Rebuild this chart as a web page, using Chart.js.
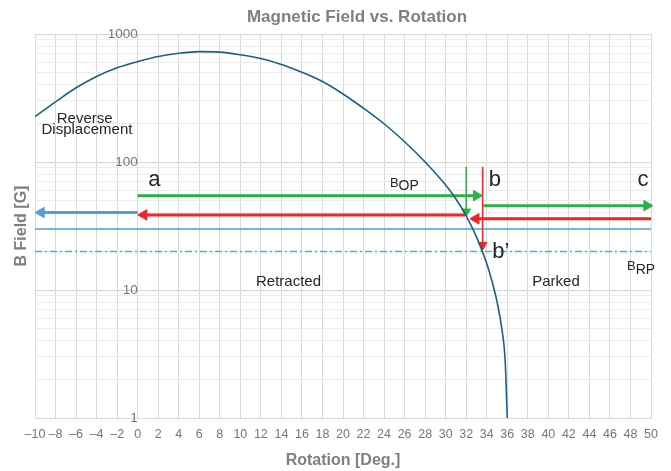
<!DOCTYPE html>
<html>
<head>
<meta charset="utf-8">
<title>Magnetic Field vs. Rotation</title>
<script src="https://cdn.jsdelivr.net/npm/chart.js@4.4.0/dist/chart.umd.min.js"></script>
<style>
    body { margin: 0; background: #fff; }
    #fieldChart { display: block; }
</style>
</head>
<body>
<canvas id="fieldChart" width="671" height="471"></canvas>
<script>
// B field curve
const rotation = [-10, -8, -6, -4, -2, 0, 2, 4, 6, 8, 10, 12, 14, 16, 18, 20, 22, 24, 26, 28, 30, 31, 32, 33, 34, 34.5, 35, 35.5, 35.8, 36];
const bField = [226, 295, 380, 466, 545, 608, 667, 707, 728, 722, 688, 643, 578, 502, 425, 340, 263, 199, 144, 100, 66, 51.4, 38, 26, 16.1, 11.8, 8.1, 4.8, 2.75, 1];

// threshold levels
const bOpLevel = 30;
const bRpLevel = 20;

// arrows, [x, y] pairs, head at the last point
const arrowA = [[0, 54.6], [33.0, 54.6]];
const arrowBack = [[31.9, 38.6], [0.6, 38.6]];
const arrowReverse = [[0, 40.3], [-9.4, 40.3]];
const arrowC = [[33.66, 45.6], [49.6, 45.6]];
const arrowParkBack = [[50, 36], [32.95, 36]];
const dropGreen = [[32.0, 92], [32.0, 41]];
const dropRed = [[33.6, 92], [33.6, 22.5]];

// axis ticks
const xRange = [-10, 50];
const yTickLabels = [1, 10, 100, 1000];
const yGridValues = [];
[1, 10, 100].forEach(d => {
    for (let m = 1; m <= 9; m++) yGridValues.push(m * d);
});
yGridValues.push(1000);

const FONT = "'Liberation Sans', Arial, sans-serif";
const GREEN = '#2bb04a';
const RED = '#ee2427';
const TITLE_GREY = '#7f7f7f';

// text notes, y is the text baseline
const notes = [
    { text: 'Reverse', x: -5.16, y: 200, size: 15 },
    { text: 'Displacement', x: -4.94, y: 164.5, size: 15 },
    { text: 'a', x: 1.62, y: 65.3, size: 22 },
    { text: 'b', x: 34.8, y: 64.5, size: 22 },
    { text: 'c', x: 49.22, y: 64.5, size: 22 },
    { text: 'b\u2019', x: 35.37, y: 17.8, size: 22 },
    { text: 'Retracted', x: 14.69, y: 10.7, size: 15 },
    { text: 'Parked', x: 40.75, y: 10.7, size: 15 },
    { text: 'B', sub: 'OP', x: 24.57, y: 64.1, size: 13, align: 'left' },
    { text: 'B', sub: 'RP', x: 47.66, y: 14.3, size: 13, align: 'left' }
];

function toPoints(pairs) {
    return pairs.map(p => ({ x: p[0], y: p[1] }));
}

function arrowSet(pairs, color, width, rot, head) {
    return {
        data: toPoints(pairs),
        borderColor: color,
        backgroundColor: color,
        borderWidth: width,
        pointStyle: 'triangle',
        pointRadius: [0, head],
        pointHoverRadius: 0,
        pointRotation: [0, rot],
        pointBackgroundColor: color,
        pointBorderColor: color,
        pointBorderWidth: 1,
        tension: 0,
        clip: 10,
        order: 1
    };
}

function levelSet(value, color, dash) {
    return {
        data: toPoints([[xRange[0], value], [xRange[1], value]]),
        borderColor: color,
        borderWidth: 1.5,
        borderDash: dash,
        pointRadius: 0,
        pointHoverRadius: 0,
        order: 2
    };
}

const notesPlugin = {
    id: 'notes',
    afterDatasetsDraw(chart) {
        const c = chart.ctx;
        const xs = chart.scales.x;
        const ys = chart.scales.y;
        const area = chart.chartArea;
        c.save();
        // chart title, sits a bit right of the plot centre like the original
        c.fillStyle = TITLE_GREY;
        c.font = 'bold 17px ' + FONT;
        c.textAlign = 'center';
        c.textBaseline = 'alphabetic';
        c.fillText('Magnetic Field vs. Rotation', (area.left + area.right) / 2 + 14, 22);

        c.fillStyle = '#262626';
        notes.forEach(n => {
            const px = xs.getPixelForValue(n.x);
            const py = ys.getPixelForValue(n.y);
            c.font = n.size + 'px ' + FONT;
            c.textAlign = n.align || 'center';
            c.fillText(n.text, px, py);
            if (n.sub) {
                const w = c.measureText(n.text).width;
                c.font = (n.size + 1) + 'px ' + FONT;
                c.textAlign = 'left';
                c.fillText(n.sub, px + w, py + 3.5);
            }
        });
        c.restore();
    }
};

const ctx = document.getElementById('fieldChart').getContext('2d');
new Chart(ctx, {
    type: 'line',
    data: {
        datasets: [
            {
                data: rotation.map((r, i) => ({ x: r, y: bField[i] })),
                borderColor: '#1d5f86',
                borderWidth: 1.6,
                pointRadius: 0,
                pointHoverRadius: 0,
                cubicInterpolationMode: 'monotone',
                order: 0
            },
            arrowSet(arrowA, GREEN, 3, 90, 6),
            arrowSet(arrowBack, RED, 3, 270, 6),
            arrowSet(arrowReverse, '#5a9bd5', 3, 270, 6),
            arrowSet(arrowC, GREEN, 3, 90, 6),
            arrowSet(arrowParkBack, RED, 3, 270, 6),
            arrowSet(dropGreen, GREEN, 1.5, 180, 5),
            arrowSet(dropRed, RED, 1.5, 180, 5),
            levelSet(bOpLevel, '#4ea3dc', []),
            levelSet(bRpLevel, '#3ab6e6', [7, 3, 2, 3])
        ]
    },
    options: {
        responsive: false,
        animation: false,
        devicePixelRatio: 1,
        events: [],
        layout: { padding: { left: 7.8, right: 20, top: 34, bottom: 0 } },
        plugins: {
            legend: { display: false },
            tooltip: { enabled: false },
            title: { display: false }
        },
        scales: {
            x: {
                type: 'linear',
                position: 'bottom',
                min: xRange[0],
                max: xRange[1],
                grid: { color: '#dadada', drawTicks: false },
                border: { color: '#dadada' },
                ticks: {
                    stepSize: 2,
                    autoSkip: false,
                    maxRotation: 0,
                    minRotation: 0,
                    padding: 9.5,
                    color: '#767676',
                    font: { family: FONT, size: 12.5 },
                    callback: v => v < 0 ? '\u2013' + Math.abs(v) : String(v)
                },
                title: {
                    display: true,
                    text: 'Rotation [Deg.]',
                    color: TITLE_GREY,
                    font: { family: FONT, size: 16, weight: 'bold', lineHeight: 1 },
                    padding: { top: 1, bottom: 2 }
                }
            },
            y: {
                type: 'logarithmic',
                position: { x: 0 },
                min: 1,
                max: 1000,
                afterBuildTicks: axis => {
                    axis.ticks = yGridValues.map(v => ({ value: v }));
                },
                grid: {
                    drawTicks: false,
                    color: c => c.tick && yTickLabels.includes(c.tick.value) ? '#d6d6d6' : '#ececec'
                },
                border: { color: '#dadada' },
                ticks: {
                    autoSkip: false,
                    padding: 10,
                    color: '#767676',
                    font: { family: FONT, size: 13.5 },
                    callback: v => yTickLabels.includes(v) ? String(v) : ''
                }
            },
            yTitle: {
                type: 'linear',
                position: 'left',
                ticks: { display: false },
                grid: { display: false, drawTicks: false },
                border: { display: false },
                title: {
                    display: true,
                    text: 'B Field [G]',
                    color: TITLE_GREY,
                    font: { family: FONT, size: 16, weight: 'bold' },
                    padding: { top: 4, bottom: 4 }
                }
            }
        }
    },
    plugins: [notesPlugin]
});
</script>
</body>
</html>
